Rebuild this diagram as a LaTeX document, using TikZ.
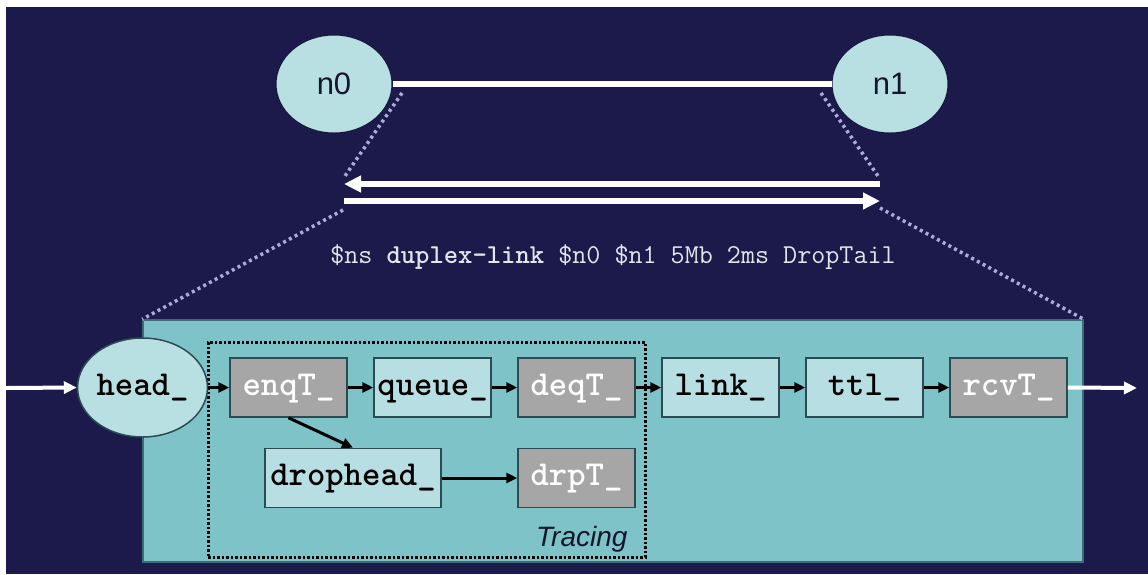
\documentclass[tikz,border=0pt]{standalone}
\usepackage{fontspec}
\setmainfont{Liberation Sans}
\usetikzlibrary{arrows.meta,shapes.geometric}

\definecolor{navy}{HTML}{1B1A4B}
\definecolor{panelteal}{HTML}{7EC3C8}
\definecolor{panelline}{HTML}{3E6C76}
\definecolor{lightcyan}{HTML}{B7DEE2}
\definecolor{nodecyan}{HTML}{B8DFE2}
\definecolor{boxgray}{HTML}{A6A6A6}
\definecolor{boxline}{HTML}{2C4A52}
\definecolor{dotcol}{HTML}{ABABD8}
\definecolor{cmdtext}{HTML}{E4E4EC}
\definecolor{inktext}{HTML}{15152E}

\newcommand\codebig{\ttfamily\bfseries\fontsize{35}{35}\selectfont}

\tikzset{
  modbox/.style={draw=boxline, line width=1.5pt, minimum width=117pt,
    minimum height=59pt, inner sep=0pt, text height=22pt, text depth=7pt,
    font=\codebig},
  lightbox/.style={modbox, fill=lightcyan, text=black},
  graybox/.style={modbox, fill=boxgray, text=white},
  netnode/.style={ellipse, fill=nodecyan, draw=navy!80!black, line width=1pt,
    minimum width=116pt, minimum height=98pt, inner sep=0pt,
    text=inktext, font=\fontsize{31}{31}\selectfont},
  flow/.style={-{Triangle[length=11pt,width=10pt]}, line width=3pt, black},
  wideflow/.style={-{Triangle[length=17pt,width=16pt]}, line width=5.5pt, white},
  inflow/.style={-{Triangle[length=13pt,width=12pt]}, line width=4pt, white},
  zoomline/.style={dotcol, line width=3.5pt, dash pattern=on 3pt off 3.5pt},
}

\begin{document}
\begin{tikzpicture}[x=1pt,y=-1pt]
  % page and background
  \fill[white] (0,0) rectangle (1148,574);
  \fill[navy] (6,7) rectangle (1148,574);
  \useasboundingbox (0,0) rectangle (1148,574);

  % the two network nodes and their link
  \node[netnode] (n0) at (334,84) {n0};
  \node[netnode] (n1) at (890,84) {n1};
  \draw[white, line width=5.5pt] (n0.east) -- (n1.west);

  % the two simplex links
  \coordinate (ul) at (344,184);
  \coordinate (ur) at (880,184);
  \coordinate (ll) at (344,201);
  \coordinate (lr) at (880,201);
  \draw[wideflow] (ur) -- (ul);
  \draw[wideflow] (ll) -- (lr);

  % command
  \node[text=cmdtext, font=\ttfamily\fontsize{27.3}{27.3}\selectfont, anchor=base]
    (cmd) at (613,263)
    {\$ns \textbf{duplex-link} \$n0 \$n1 5Mb 2ms DropTail};

  % expanded link object
  \node[fill=panelteal, draw=panelline, line width=1.5pt,
        minimum width=940pt, minimum height=242pt, inner sep=0pt] (panel) at (613,441) {};

  % zoom-out guide lines
  \coordinate (a0) at (402,93);
  \coordinate (a1) at (345,176);
  \coordinate (a2) at (343,210);
  \coordinate (b0) at (821,93);
  \coordinate (b1) at (878,176);
  \coordinate (b2) at (880,208);
  \draw[zoomline] (a0) -- (a1);
  \draw[zoomline] (a2) -- (panel.north west);
  \draw[zoomline] (b0) -- (b1);
  \draw[zoomline] (b2) -- (panel.north east);

  % tracing group
  \node[draw=black, line width=3pt, dash pattern=on 2.5pt off 2pt,
        minimum width=437pt, minimum height=215pt, inner sep=0pt] (trace) at (426.5,449.5) {};
  \node[anchor=base east, text=inktext, font=\itshape\fontsize{28}{28}\selectfont]
    (tracelbl) at (631,546) {Tracing};

  % components
  \node[netnode, draw=boxline, line width=1.5pt, minimum width=115pt, minimum height=99pt,
        text=black, text height=22pt, text depth=7pt, font=\codebig]
    (head) at (142.5,387.5) {head\_};
  \node[graybox]  (enqT)  at (288.5,387.5) {enqT\_};
  \node[lightbox] (queue) at (432.5,387.5) {queue\_};
  \node[graybox]  (deqT)  at (576.5,387.5) {deqT\_};
  \node[lightbox] (link)  at (720.5,387.5) {link\_};
  \node[lightbox] (ttl)   at (864.5,387.5) {ttl\_};
  \node[graybox]  (rcvT)  at (1008.5,387.5) {rcvT\_};
  \node[lightbox, minimum width=176pt] (drophead) at (353,478) {drophead\_};
  \node[graybox]  (drpT)  at (576.5,478) {drpT\_};

  % packet flow
  \coordinate (in) at (6,388);
  \coordinate (out) at (1137,388);
  \draw[inflow] (in) -- (head.west);
  \draw[inflow] (rcvT.east) -- (out);
  \draw[flow] (head.east) -- (enqT.west);
  \draw[flow] (enqT) -- (queue);
  \draw[flow] (queue) -- (deqT);
  \draw[flow] (deqT) -- (link);
  \draw[flow] (link) -- (ttl);
  \draw[flow] (ttl) -- (rcvT);
  \draw[flow] (enqT.south) -- (drophead.north);
  \draw[flow] (drophead) -- (drpT);
\end{tikzpicture}
\end{document}
